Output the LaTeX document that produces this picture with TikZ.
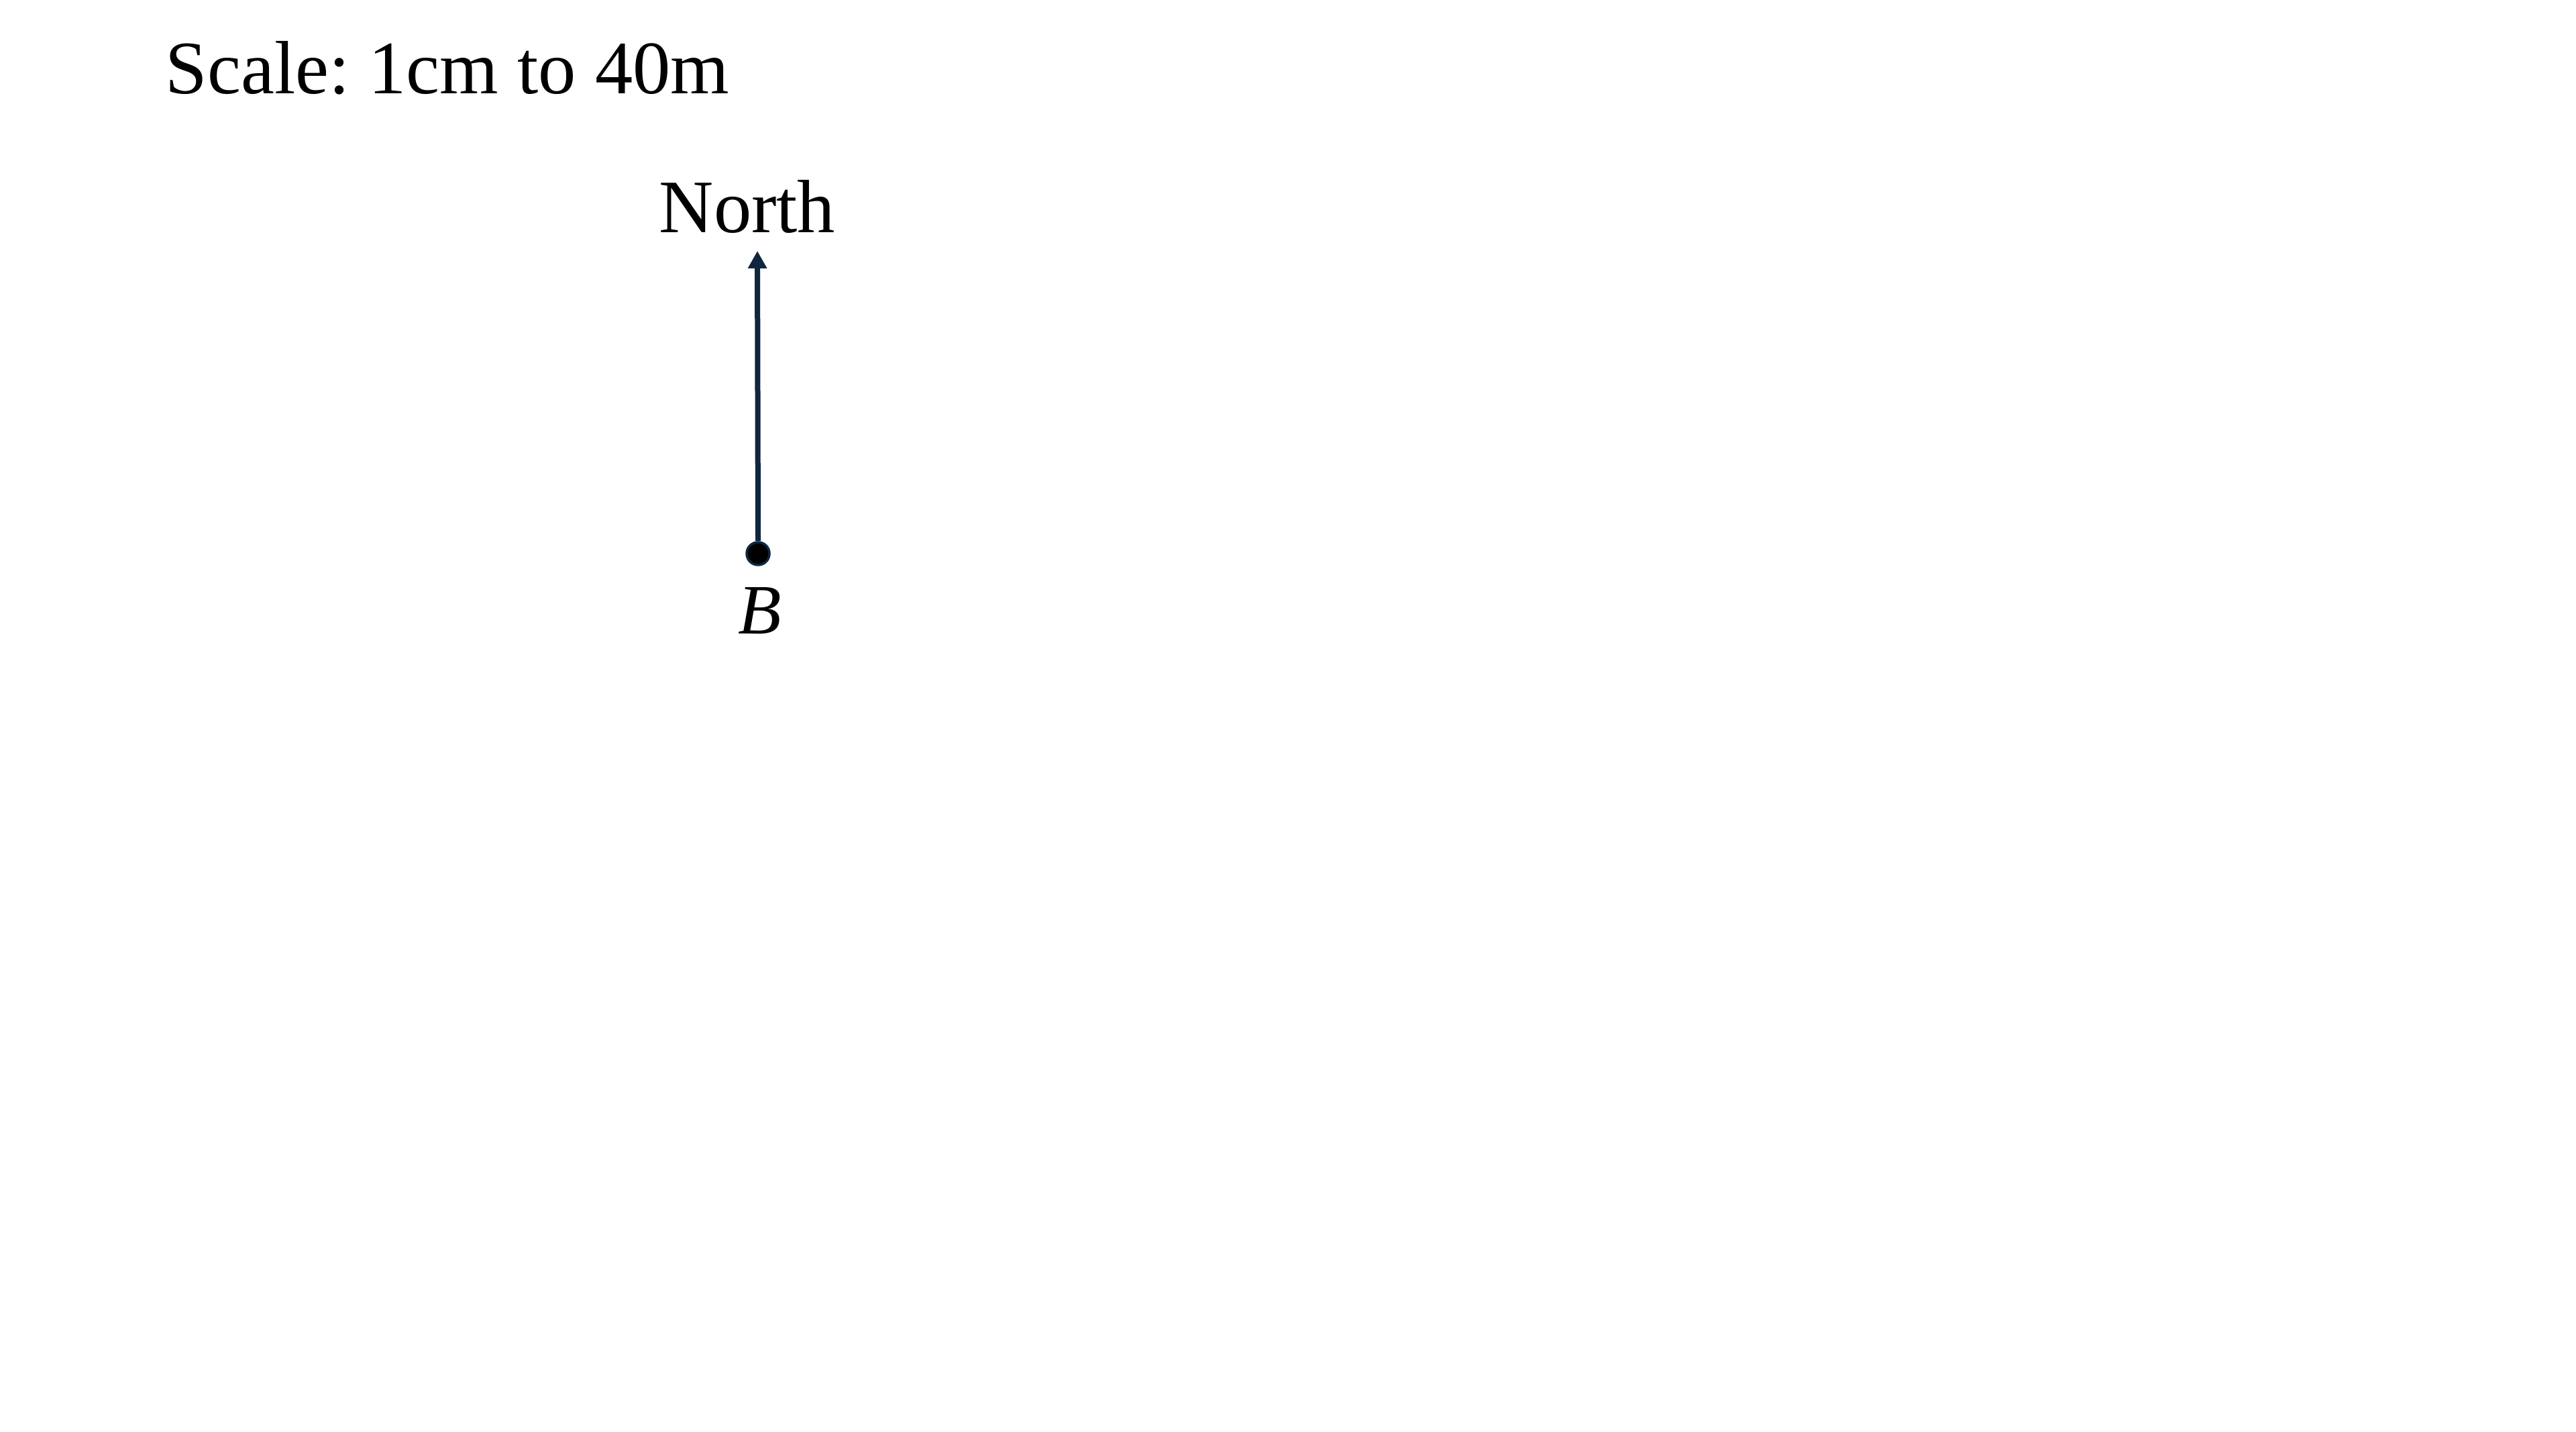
\documentclass[tikz,border=0pt]{standalone}
\usepackage{fontspec}
\setmainfont{Liberation Serif}
\usetikzlibrary{arrows.meta}
\definecolor{navy}{HTML}{10263F}
\frenchspacing
\tikzset{
  lbl/.style={inner sep=0pt, font=\fontsize{32}{38}\selectfont},
  dotnode/.style={circle, fill=black, draw=navy, line width=1pt, minimum size=0.34cm, inner sep=0pt},
  northarrow/.style={draw=navy, line width=0.08cm, -{Triangle[length=0.26cm,width=0.27cm]}}
}
\begin{document}
\begin{tikzpicture}
\useasboundingbox (0,0) rectangle (38.40,21.34);
\node[lbl, anchor=base west] (scale) at (2.46,19.94) {Scale: 1cm to 40m};
\node[lbl, anchor=base] (north) at (11.14,17.87) {North};
\node[dotnode] (B) at (11.30,13.09) {};
\coordinate (tip) at (11.29,17.60);
\draw[northarrow] (B.north) -- (tip);
\node[lbl, anchor=base, font=\fontsize{30}{36}\selectfont\itshape] (Blabel) at (11.33,11.89) {B};
\end{tikzpicture}
\end{document}
